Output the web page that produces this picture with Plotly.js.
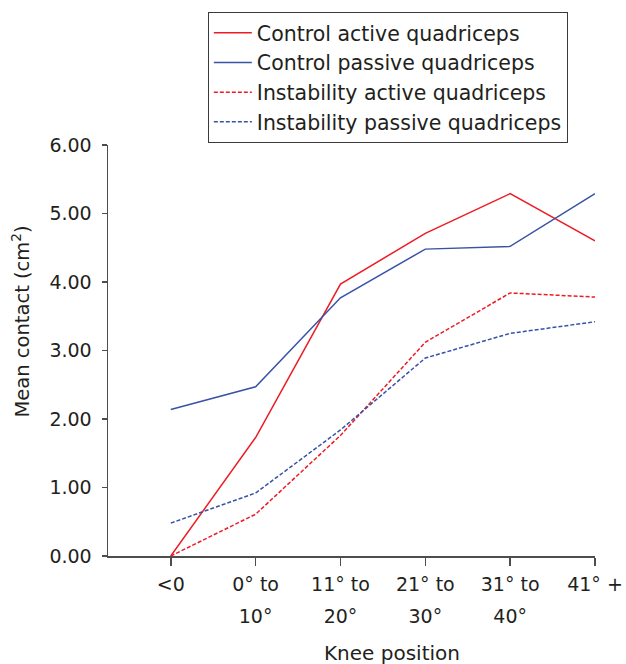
<!DOCTYPE html>
<html>
<head>
<meta charset="utf-8">
<script src="https://cdn.plot.ly/plotly-3.0.1.min.js"></script>
<style>html,body{margin:0;padding:0;background:#fff;}#chart{width:626px;height:664px;}</style>
</head>
<body>
<div id="chart"></div>
<script>
const categories = ["<0", "0° to 10°", "11° to 20°", "21° to 30°", "31° to 40°", "41° +"];
const tickLine1 = ["<0", "0° to", "11° to", "21° to", "31° to", "41° +"];
const tickLine2 = ["", "10°", "20°", "30°", "40°", ""];
const controlActive = [0.00, 1.73, 3.97, 4.71, 5.29, 4.60];
const controlPassive = [2.14, 2.47, 3.77, 4.48, 4.52, 5.29];
const instabilityActive = [0.00, 0.61, 1.76, 3.12, 3.84, 3.78];
const instabilityPassive = [0.48, 0.92, 1.84, 2.89, 3.25, 3.42];
const yTicks = [0, 1, 2, 3, 4, 5, 6];
const xTitle = 'Knee position';
const yTitle = 'Mean contact (cm<sup>2</sup>)';

const RED = '#ed1c24';
const BLUE = '#3953a4';
const FONT = 'DejaVu Sans, Verdana, sans-serif';
const TXT = '#231f20';

const line2Vals = categories.filter((c, i) => tickLine2[i] !== '');
const line2Text = tickLine2.filter(t => t !== '');

const traces = [
  {x: categories, y: controlActive, name: 'Control active quadriceps', mode: 'lines',
   line: {color: RED, width: 1.5}},
  {x: categories, y: controlPassive, name: 'Control passive quadriceps', mode: 'lines',
   line: {color: BLUE, width: 1.5}},
  {x: categories, y: instabilityActive, name: 'Instability active quadriceps', mode: 'lines',
   line: {color: RED, width: 1.5, dash: '4px,2px'}},
  {x: categories, y: instabilityPassive, name: 'Instability passive quadriceps', mode: 'lines',
   line: {color: BLUE, width: 1.5, dash: '4px,2px'}},
  {x: categories, y: controlActive, xaxis: 'x2', mode: 'lines', showlegend: false,
   hoverinfo: 'skip', line: {color: 'rgba(0,0,0,0)', width: 0}}
];

const layout = {
  width: 626, height: 664,
  margin: {l: 108, r: 31, t: 145, b: 108},
  paper_bgcolor: '#ffffff', plot_bgcolor: '#ffffff',
  font: {family: FONT, size: 19, color: TXT},
  showlegend: true,
  legend: {x: 0.205, y: 1.3236, xanchor: 'left', yanchor: 'top',
    bordercolor: '#3a3a3a', borderwidth: 1, bgcolor: '#ffffff', itemwidth: 38,
    font: {family: FONT, size: 20.5, color: TXT}, tracegroupgap: 0},
  xaxis: {type: 'category', range: [-0.74, 5], showgrid: false, zeroline: false,
    showline: true, linecolor: '#4d4d4d', linewidth: 1.5,
    ticks: 'outside', ticklen: 8, tickwidth: 1.5, tickcolor: '#4d4d4d',
    tickmode: 'array', tickvals: categories, ticktext: tickLine1,
    tickfont: {family: FONT, size: 19, color: TXT},
    ticklabelstandoff: 3, automargin: false, fixedrange: true},
  xaxis2: {type: 'category', overlaying: 'x', anchor: 'y', side: 'bottom',
    range: [-0.74, 5], showgrid: false, zeroline: false, showline: false, ticks: '',
    tickmode: 'array', tickvals: line2Vals, ticktext: line2Text,
    tickfont: {family: FONT, size: 19, color: TXT},
    ticklabelstandoff: 47, automargin: false, fixedrange: true},
  yaxis: {range: [0, 6], showgrid: false, zeroline: false,
    showline: true, linecolor: '#4d4d4d', linewidth: 1.5,
    ticks: 'outside', ticklen: 5, tickwidth: 1.5, tickcolor: '#4d4d4d',
    tickmode: 'array', tickvals: yTicks, tickformat: '.2f',
    tickfont: {family: FONT, size: 19, color: TXT},
    ticklabelstandoff: 6, automargin: false, fixedrange: true},
  annotations: [
    {text: xTitle, xref: 'paper', yref: 'paper', x: 0.5832, y: -0.236,
     xanchor: 'center', yanchor: 'middle', showarrow: false,
     font: {family: FONT, size: 20, color: TXT}},
    {text: yTitle, xref: 'paper', yref: 'paper', x: -0.1786, y: 0.5706,
     xanchor: 'center', yanchor: 'middle', showarrow: false, textangle: -90,
     font: {family: FONT, size: 19.5, color: TXT}}
  ]
};

Plotly.newPlot('chart', traces, layout, {displayModeBar: false, staticPlot: true});
</script>
</body>
</html>
